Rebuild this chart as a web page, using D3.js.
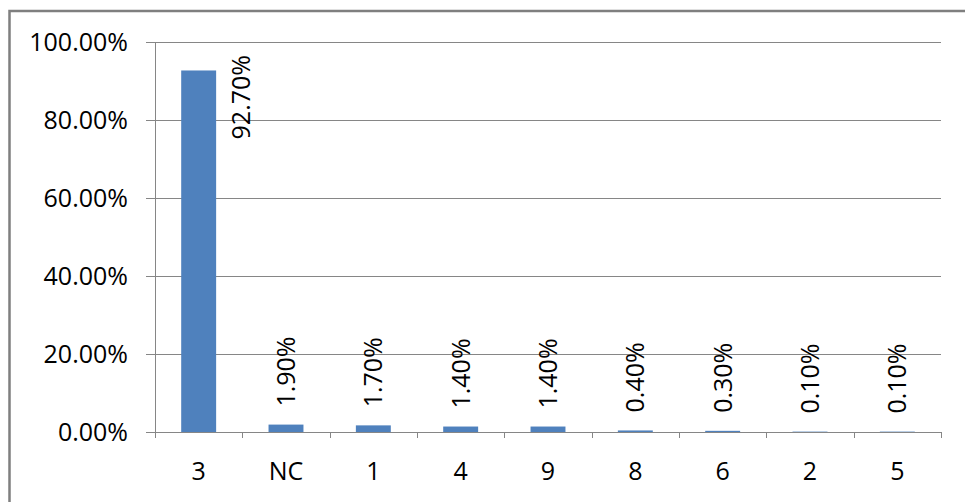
<!DOCTYPE html>
<html>
<head>
<meta charset="utf-8">
<script src="https://cdn.jsdelivr.net/npm/d3@7"></script>
<style>
  body { margin: 0; background: #fff; }
  svg { display: block; }
</style>
</head>
<body>
<div id="chart"></div>
<script>
const categories = ['3', 'NC', '1', '4', '9', '8', '6', '2', '5']
const values = [92.7, 1.9, 1.7, 1.4, 1.4, 0.4, 0.3, 0.1, 0.1]
const yTicks = [0, 20, 40, 60, 80, 100]

const width = 965
const height = 502
const margin = { top: 42, right: 24, bottom: 70, left: 155 }
const font = '"Open Sans", sans-serif'
const gray = '#868686'

const svg = d3.select('#chart').append('svg')
    .attr('width', width).attr('height', height)

// outer chart frame (right/bottom edges fall outside the picture)
svg.append('rect')
    .attr('x', 9.5).attr('y', 11)
    .attr('width', width + 20).attr('height', height + 20)
    .attr('fill', 'none').attr('stroke', '#7f7f7f').attr('stroke-width', 2.5)

const x = d3.scaleBand()
    .domain(categories)
    .range([margin.left, width - margin.right])
    .paddingInner(0.6).paddingOuter(0.3)

const xb = d3.scaleBand().domain(categories).range([margin.left, width - margin.right])

const y = d3.scaleLinear()
    .domain([0, 100])
    .range([height - margin.bottom, margin.top])

// gridlines
svg.append('g')
    .selectAll('line')
    .data(yTicks)
    .join('line')
    .attr('x1', margin.left - 9).attr('x2', width - margin.right)
    .attr('y1', d => Math.round(y(d)) + 0.5).attr('y2', d => Math.round(y(d)) + 0.5)
    .attr('stroke', gray).attr('stroke-width', 1)

// y axis line
svg.append('line')
    .attr('x1', margin.left + 0.5).attr('x2', margin.left + 0.5)
    .attr('y1', y(100)).attr('y2', y(0))
    .attr('stroke', gray)

// x ticks
const tickXs = categories.map(c => xb(c)).concat([xb.range()[1]])
svg.append('g')
    .selectAll('line')
    .data(tickXs)
    .join('line')
    .attr('x1', d => Math.round(d) + 0.5).attr('x2', d => Math.round(d) + 0.5)
    .attr('y1', y(0)).attr('y2', y(0) + 6)
    .attr('stroke', gray)

// y labels
svg.append('g')
    .style('font', `25px ${font}`)
    .selectAll('text')
    .data(yTicks)
    .join('text')
    .attr('x', 128)
    .attr('y', d => y(d))
    .attr('dy', '0.36em')
    .attr('text-anchor', 'end')
    .attr('fill', '#000')
    .text(d => d3.format('.2f')(d) + '%')

// x labels
svg.append('g')
    .style('font', `25px ${font}`)
    .selectAll('text')
    .data(categories)
    .join('text')
    .attr('x', d => x(d) + x.bandwidth() / 2)
    .attr('y', 480)
    .attr('text-anchor', 'middle')
    .attr('fill', '#000')
    .text(d => d)

// bars
const data = categories.map((c, i) => ({ cat: c, value: values[i] }))
svg.append('g')
    .selectAll('rect')
    .data(data)
    .join('rect')
    .attr('x', d => x(d.cat))
    .attr('y', d => y(d.value))
    .attr('width', x.bandwidth())
    .attr('height', d => y(0) - y(d.value))
    .attr('fill', '#4f81bd')

// data labels, rotated
svg.append('g')
    .style('font', `25px ${font}`)
    .selectAll('text')
    .data(data)
    .join('text')
    .attr('transform', d => {
        const cx = x(d.cat) + x.bandwidth() / 2
        if (d.value > 80) {
            // no room above, Excel pushes it beside the bar
            return `translate(${cx + xb.bandwidth() / 2 - 1},${y(100) + 13}) rotate(-90)`
        }
        return `translate(${cx},${y(d.value) - 18}) rotate(-90)`
    })
    .attr('dy', '0.36em')
    .attr('text-anchor', d => d.value > 80 ? 'end' : 'start')
    .attr('fill', '#000')
    .text(d => d3.format('.2f')(d.value) + '%')
</script>
</body>
</html>
